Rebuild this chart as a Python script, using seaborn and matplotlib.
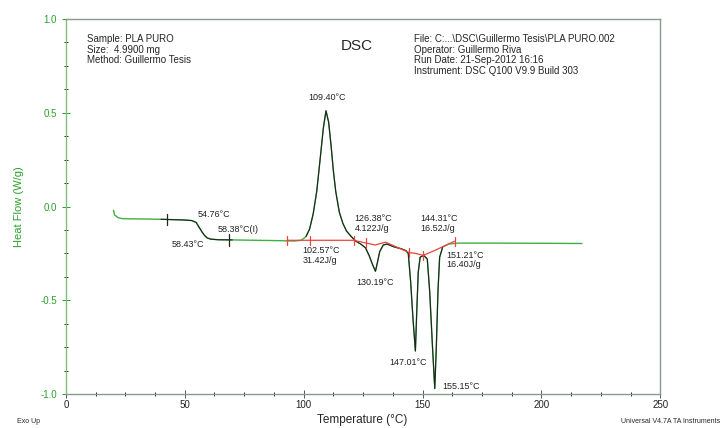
import matplotlib

matplotlib.use("Agg")
import matplotlib.pyplot as plt
import numpy as np
import pandas as pd
import seaborn as sns

# DSC heat flow curve
temperature = [20.0, 20.5, 22.0, 24.0, 30.0, 40.0, 50.0, 53.0, 54.8, 56.0, 57.5, 58.4,
               59.5, 61.0, 64.0, 70.0, 80.0, 90.0, 96.0, 99.0, 101.0, 102.5, 104.0,
               105.5, 107.0, 108.3, 109.4, 110.5, 111.5, 112.5, 113.5, 115.0, 116.5,
               118.0, 120.0, 122.0, 124.0, 126.0, 127.5, 129.0, 130.2, 131.0, 132.0,
               133.5, 135.0, 138.0, 141.0, 143.0, 144.0, 145.0, 146.0, 147.0, 147.6,
               148.2, 149.0, 150.5, 152.0, 153.0, 154.2, 155.15, 155.8, 156.5, 157.2,
               158.5, 161.0, 165.0, 180.0, 200.0, 217.0]
heat_flow = [-0.02, -0.045, -0.06, -0.065, -0.066, -0.068, -0.072, -0.075, -0.085, -0.11,
             -0.14, -0.155, -0.168, -0.174, -0.177, -0.178, -0.18, -0.182, -0.184, -0.18,
             -0.16, -0.12, -0.04, 0.08, 0.26, 0.42, 0.51, 0.45, 0.33, 0.19, 0.08, -0.03,
             -0.09, -0.13, -0.16, -0.185, -0.2, -0.22, -0.26, -0.31, -0.345, -0.3, -0.24,
             -0.205, -0.2, -0.215, -0.225, -0.235, -0.25, -0.4, -0.6, -0.77, -0.55, -0.35,
             -0.27, -0.26, -0.28, -0.45, -0.75, -0.97, -0.75, -0.45, -0.27, -0.215, -0.2,
             -0.195, -0.195, -0.196, -0.197]

# integration baseline (red)
base_temp = [93.0, 102.6, 121.0, 126.4, 130.0, 133.0, 134.5, 138.0, 144.3, 147.0,
             150.3, 155.0, 160.0, 163.5]
base_flow = [-0.18, -0.18, -0.18, -0.195, -0.205, -0.195, -0.19, -0.21, -0.245, -0.25,
             -0.26, -0.235, -0.205, -0.185]
base_marks = [93.0, 102.6, 121.0, 126.4, 144.3, 150.3, 163.5]

# glass transition limits
tg_marks = [42.5, 68.5]

# analysed ranges drawn in black
black_ranges = [(40, 70), (100, 160)]

header_left = "Sample: PLA PURO\nSize:  4.9900 mg\nMethod: Guillermo Tesis"
header_right = ("File: C:...\\DSC\\Guillermo Tesis\\PLA PURO.002\n"
                "Operator: Guillermo Riva\n"
                "Run Date: 21-Sep-2012 16:16\n"
                "Instrument: DSC Q100 V9.9 Build 303")

peak_labels = [
    ("109.40°C", 109.8, 0.58, "center"),
    ("102.57°C\n31.42J/g", 99.5, -0.26, "left"),
    ("126.38°C\n4.122J/g", 121.5, -0.09, "left"),
    ("130.19°C", 122.0, -0.405, "left"),
    ("144.31°C\n16.52J/g", 149.0, -0.09, "left"),
    ("151.21°C\n16.40J/g", 160.0, -0.285, "left"),
    ("147.01°C", 152.0, -0.83, "right"),
    ("155.15°C", 158.5, -0.96, "left"),
    ("54.76°C", 55.5, -0.04, "left"),
    ("58.43°C", 58.0, -0.2, "right"),
    ("58.38°C(I)", 64.0, -0.12, "left"),
]

green = "#2ca02c"

sns.set_style("ticks")
plt.rcParams["font.family"] = ["Liberation Sans", "DejaVu Sans"]

df = pd.DataFrame({"T": temperature, "HF": heat_flow})
bl = pd.DataFrame({"T": base_temp, "HF": base_flow})

fig = plt.figure(figsize=(7.24, 4.28), dpi=100)
ax = fig.add_axes([0.091, 0.079, 0.821, 0.877])

sns.lineplot(data=df, x="T", y="HF", color="#3cb043", lw=1.0, ax=ax, sort=False)
for lo, hi in black_ranges:
    seg = df[(df["T"] >= lo) & (df["T"] <= hi)]
    sns.lineplot(data=seg, x="T", y="HF", color="#222222", lw=0.8, ax=ax, sort=False)
sns.lineplot(data=bl, x="T", y="HF", color="#e8453c", lw=0.9, ax=ax, sort=False)

for t in base_marks:
    yv = np.interp(t, base_temp, base_flow)
    ax.plot([t, t], [yv - 0.025, yv + 0.025], color="#e8453c", lw=0.9)
for t in tg_marks:
    yv = np.interp(t, temperature, heat_flow)
    ax.plot([t, t], [yv - 0.03, yv + 0.03], color="#222222", lw=0.9)

for txt, x, y, ha in peak_labels:
    ax.text(x, y, txt, fontsize=6.5, ha=ha, va="center", color="#222222", linespacing=1.1)

ax.set_xlim(0, 250)
ax.set_ylim(-1.0, 1.0)
ax.set_xticks([0, 50, 100, 150, 200, 250])
ax.set_yticks([-1.0, -0.5, 0.0, 0.5, 1.0])
ax.set_xticks(np.arange(0, 251, 12.5), minor=True)
ax.set_yticks(np.arange(-1.0, 1.01, 0.125), minor=True)
ax.yaxis.set_major_formatter(matplotlib.ticker.FormatStrFormatter("%.1f"))
ax.tick_params(axis="both", which="both", direction="inout", labelsize=7, width=0.7)
ax.tick_params(axis="both", which="major", length=6)
ax.tick_params(axis="both", which="minor", length=3)
ax.tick_params(axis="x", which="major", pad=1)
ax.tick_params(axis="y", colors=green, labelcolor=green)
ax.tick_params(axis="x", colors="#555555", labelcolor="#222222")
for side in ["top", "right", "bottom"]:
    ax.spines[side].set_visible(True)
    ax.spines[side].set_color("#8a9a8a")
    ax.spines[side].set_linewidth(1.0)
ax.spines["left"].set_color("#7cbf7c")
ax.spines["left"].set_linewidth(1.0)

ax.set_xlabel("")
ax.set_ylabel("Heat Flow (W/g)", color=green, fontsize=8, labelpad=12)

fig.text(0.5, 0.004, "Temperature (°C)", ha="center", va="bottom", fontsize=8.5)
fig.text(0.023, 0.008, "Exo Up", ha="left", va="bottom", fontsize=5)
fig.text(0.995, 0.008, "Universal V4.7A TA Instruments", ha="right", va="bottom", fontsize=5)

ax.text(0.035, 0.96, header_left, transform=ax.transAxes, fontsize=7, va="top", ha="left",
        linespacing=1.1)
ax.text(0.49, 0.945, "DSC", transform=ax.transAxes, fontsize=11, va="top", ha="center")
ax.text(0.585, 0.96, header_right, transform=ax.transAxes, fontsize=7, va="top", ha="left",
        linespacing=1.1)

plt.savefig("out.png", dpi=100)
plt.close()
